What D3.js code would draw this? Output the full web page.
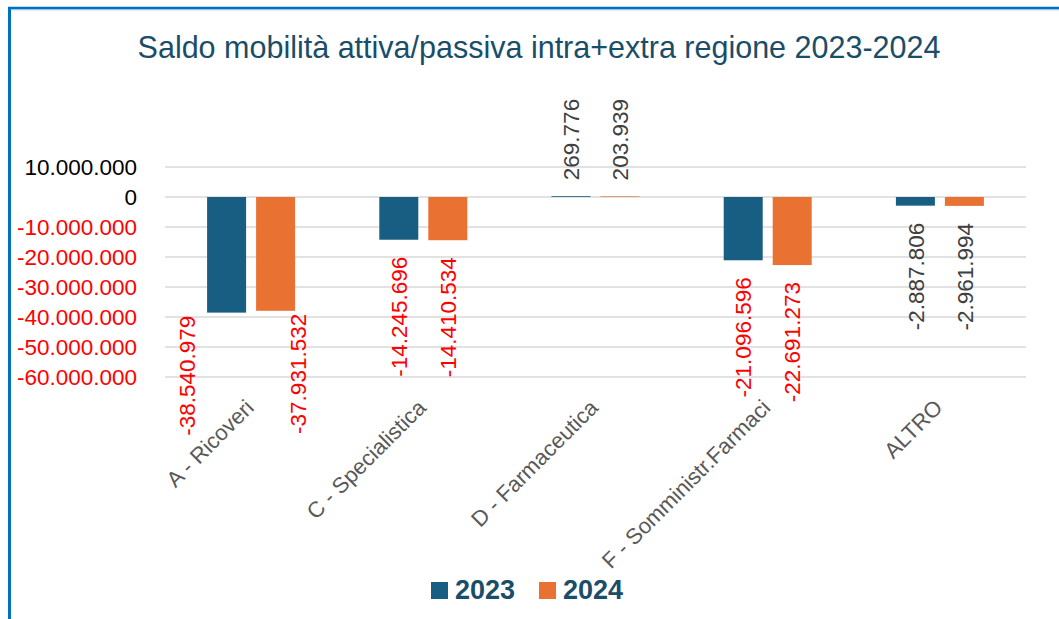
<!DOCTYPE html>
<html>
<head>
<meta charset="utf-8">
<script src="https://cdn.jsdelivr.net/npm/d3@7"></script>
<style>
  body { margin: 0; background: #fff; }
  text { font-family: "Liberation Sans", Arial, sans-serif; }
</style>
</head>
<body>
<svg id="chart" width="1059" height="619"></svg>
<script>
// data
const categories = ["A - Ricoveri", "C - Specialistica", "D - Farmaceutica", "F - Somministr.Farmaci", "ALTRO"];
const series = ["2023", "2024"];
const values2023 = [-38540979, -14245696, 269776, -21096596, -2887806];
const values2024 = [-37931532, -14410534, 203939, -22691273, -2961994];
const yTicks = [10000000, 0, -10000000, -20000000, -30000000, -40000000, -50000000, -60000000];

let svg = d3.select("#chart");
let margin = {left: 165, right: 33, top: 167, bottom: 242};
let width = +svg.attr("width") - margin.left - margin.right;
let height = +svg.attr("height") - margin.top - margin.bottom;

const colors = {"2023": "#175e82", "2024": "#e97132"};
const titleColor = "#1a4d68";

const it = d3.formatLocale({decimal: ",", thousands: ".", grouping: [3], currency: ["€", ""], minus: "-"});
const fmt = it.format(",d");

// frame border
svg.append("line").attr("x1", 9.5).attr("x2", 9.5).attr("y1", 7).attr("y2", 619)
    .attr("stroke", "#0070c0").attr("stroke-width", 3);
svg.append("line").attr("x1", 8).attr("x2", 1059).attr("y1", 8).attr("y2", 8)
    .attr("stroke", "#0070c0").attr("stroke-width", 2.5);
svg.append("line").attr("x1", 11).attr("x2", 1059).attr("y1", 9.8).attr("y2", 9.8)
    .attr("stroke", "#8fbfe6").attr("stroke-width", 1);

svg.append("text")
    .attr("x", 539).attr("y", 58)
    .attr("text-anchor", "middle")
    .attr("font-size", 30.5)
    .attr("fill", titleColor)
    .text("Saldo mobilità attiva/passiva intra+extra regione 2023-2024");

let g = svg.append("g").attr("transform", `translate(${margin.left}, ${margin.top})`);

let x0 = d3.scaleBand().domain(categories).range([0, width]);
let groupW = x0.bandwidth() * 0.511;
let x1 = d3.scaleBand().domain(series)
    .range([(x0.bandwidth() - groupW) / 2, (x0.bandwidth() + groupW) / 2])
    .paddingInner(0.204);
let y = d3.scaleLinear().domain([-60000000, 10000000]).range([height, 0]);

// gridlines
g.selectAll(".grid").data(yTicks).enter().append("line")
    .attr("class", "grid")
    .attr("x1", 0).attr("x2", width)
    .attr("y1", d => y(d)).attr("y2", d => y(d))
    .attr("stroke", "#d9d9d9").attr("stroke-width", 1.5);

// y axis labels
let yAxis = g.append("g")
    .attr("transform", "translate(-28, 0)")
    .call(d3.axisLeft(y).tickValues(yTicks).tickFormat(fmt).tickSize(0).tickPadding(0));
yAxis.select(".domain").remove();
yAxis.selectAll("text")
    .attr("font-size", 22.5)
    .attr("font-family", "Liberation Sans, Arial, sans-serif")
    .attr("fill", d => d < 0 ? "#ff0000" : "#000");

// bars
let rows = categories.map((c, i) => ({cat: c, vals: [
    {key: "2023", value: values2023[i], cat: c},
    {key: "2024", value: values2024[i], cat: c}
]}));

let groups = g.selectAll(".cat").data(rows).enter().append("g")
    .attr("class", "cat")
    .attr("transform", d => `translate(${x0(d.cat)}, 0)`);

groups.selectAll("rect").data(d => d.vals).enter().append("rect")
    .attr("x", d => x1(d.key))
    .attr("width", x1.bandwidth())
    .attr("y", d => Math.min(y(d.value), y(0)))
    .attr("height", d => Math.abs(y(d.value) - y(0)))
    .attr("fill", d => colors[d.key]);

// labels of the first group were dragged by hand in the original
const nudge = {"A - Ricoveri|2023": [-40, -14], "A - Ricoveri|2024": [22, -14]};

groups.selectAll(".lbl").data(d => d.vals).enter().append("text")
    .attr("class", "lbl")
    .attr("transform", d => {
        let n = nudge[d.cat + "|" + d.key] || [0, 0];
        let cx = x1(d.key) + x1.bandwidth() / 2 + n[0];
        let cy = d.value < 0 ? y(d.value) + 17 + n[1] : y(d.value) - 16;
        return `translate(${cx}, ${cy}) rotate(-90)`;
    })
    .attr("dy", "0.36em")
    .attr("text-anchor", d => d.value < 0 ? "end" : "start")
    .attr("font-size", 22.5)
    .attr("fill", d => d.value < -5000000 ? "#ff0000" : "#404040")
    .text(d => fmt(d.value));

// category labels
g.selectAll(".catlbl").data(categories).enter().append("text")
    .attr("class", "catlbl")
    .attr("transform", d => `translate(${x0(d) + x0.bandwidth() / 2 + 4}, ${409 - margin.top}) rotate(-45)`)
    .attr("text-anchor", "end")
    .attr("font-size", 22)
    .attr("fill", "#595959")
    .text(d => d);

// legend
let legend = svg.selectAll(".legend").data(series).enter().append("g")
    .attr("class", "legend")
    .attr("transform", (d, i) => `translate(${431 + i * 108}, 582)`);
legend.append("rect")
    .attr("width", 17).attr("height", 17)
    .attr("fill", d => colors[d]);
legend.append("text")
    .attr("x", 24).attr("y", 16.5)
    .attr("font-size", 27)
    .attr("font-weight", "bold")
    .attr("fill", titleColor)
    .text(d => d);
</script>
</body>
</html>
